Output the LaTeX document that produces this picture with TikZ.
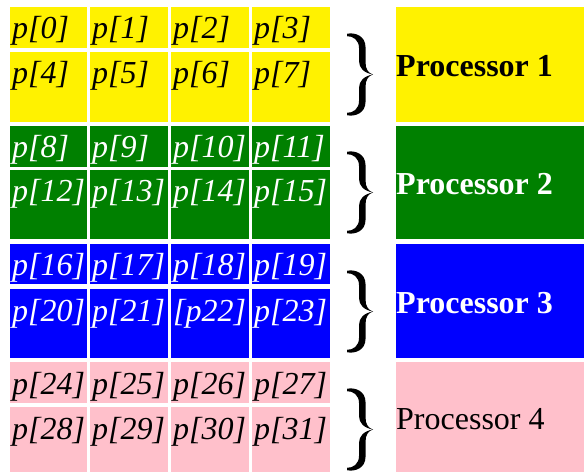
\documentclass[tikz,border=0pt]{standalone}
\usepackage{fontspec}
\setmainfont{Liberation Serif}
\definecolor{procgreen}{RGB}{0,128,0}
\definecolor{procpink}{RGB}{255,192,203}
\tikzset{
  % right curly brace, 26 wide and 83 tall, drawn from its top-left corner
  curly/.pic={
    \fill (0,0.8) .. controls (8,-1) and (18.5,3) .. (18.5,14) -- (18.5,29)
      .. controls (18.5,36) and (21,40) .. (26,41.5)
      .. controls (21,43) and (18.5,47) .. (18.5,54) -- (18.5,69)
      .. controls (18.5,80) and (8,84) .. (0,82.2)
      -- (0,79.8) .. controls (6,80) and (12,76) .. (12,68) -- (12,55)
      .. controls (12,48) and (17,43) .. (26,41.5)
      .. controls (17,40) and (12,35) .. (12,28) -- (12,15)
      .. controls (12,7) and (6,3) .. (0,3.2) -- cycle;
  }
}
\begin{document}
\begin{tikzpicture}[x=1pt,y=-1pt,
  cell/.style={anchor=base west, inner sep=0pt, font=\fontsize{32}{38}\selectfont\itshape},
  proclabel/.style={anchor=base west, inner sep=0pt, font=\fontsize{32}{38}\selectfont}]
\useasboundingbox (0,0) rectangle (584,473);
% one block of 2x4 array elements per processor
\foreach \g/\ta/\ba/\tb/\bb/\col/\txt/\wt/\bt in {
    0/7/48/52/122/yellow/black/\bfseries/33,
    1/126/167/170/239/procgreen/white/\bfseries/151,
    2/244/284/289/358/blue/white/\bfseries/270,
    3/362/403/407/472/procpink/black/\mdseries/388} {
  \foreach \c/\l/\r in {0/10/87,1/90/168,2/171/249,3/252/330} {
    \pgfmathtruncatemacro{\ia}{8*\g+\c}
    \pgfmathtruncatemacro{\ib}{8*\g+4+\c}
    \fill[\col] (\l,\ta) rectangle (\r,\ba);
    \fill[\col] (\l,\tb) rectangle (\r,\bb);
    \node[cell,text=\txt] (p\ia) at (\l+2,\ta+32) {p[\ia]};
    \node[cell,text=\txt] (p\ib) at (\l+2,\tb+32) {\ifnum\ib=22 [p22]\else p[\ib]\fi};
  }
  \pgfmathtruncatemacro{\n}{\g+1}
  % brace and processor box
  \pic (brace\n) at (347,\bt) {curly};
  \fill[\col] (396,\ta) rectangle (584,\bb);
  \node[proclabel,text=\txt,font=\fontsize{32}{38}\selectfont\wt] (proc\n) at (396,{(\ta+\bb)/2+12.5}) {Processor \n};
}
\end{tikzpicture}
\end{document}
